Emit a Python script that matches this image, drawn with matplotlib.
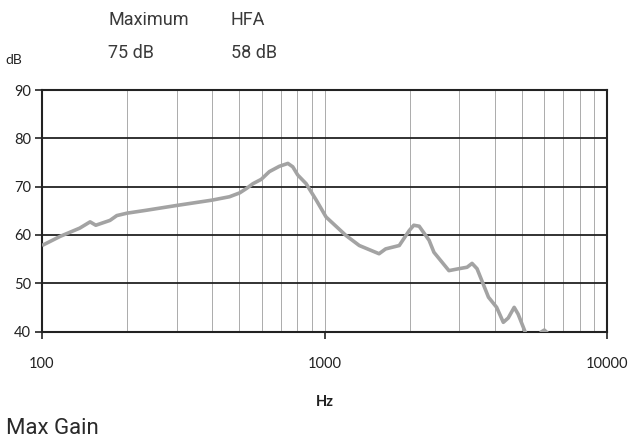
import matplotlib
matplotlib.use("Agg")
import matplotlib.pyplot as plt
from matplotlib.ticker import FixedLocator, NullFormatter
from matplotlib import font_manager

plt.rcParams['font.family'] = ['Lato', 'DejaVu Sans']
names = sorted({f.name for f in font_manager.fontManager.ttflist})
narrow = 'Liberation Sans Narrow' if 'Liberation Sans Narrow' in names else 'Roboto'

freq_hz = [100, 116, 136, 148, 155, 174, 184, 200, 234, 300, 400, 425, 461, 501, 529,
           558, 597, 638, 692, 742, 772, 804, 861, 935, 1013, 1190, 1328, 1560, 1646,
           1839, 1995, 2070, 2163, 2345, 2440, 2757, 2988, 3196, 3329, 3467, 3806, 4068,
           4295, 4471, 4693, 4846, 5117, 5300, 5600, 5850, 6000, 6150, 6400]
gain_db = [57.8, 59.7, 61.4, 62.7, 62.0, 63.0, 64.0, 64.5, 65.1, 66.1, 67.2, 67.5, 67.9,
           68.7, 69.6, 70.6, 71.5, 73.1, 74.2, 74.8, 74.1, 72.4, 70.6, 67.2, 63.7, 59.9,
           57.8, 56.1, 57.1, 57.8, 60.9, 62.0, 61.8, 58.9, 56.4, 52.6, 53.0, 53.3, 54.1,
           53.0, 47.1, 45.0, 41.9, 42.8, 45.0, 43.6, 40.1, 38.0, 37.5, 39.9, 40.3, 39.7, 37.0]

y_ticks = [40, 50, 60, 70, 80, 90]
x_major = [100, 1000, 10000]
x_minor = [200, 300, 400, 500, 600, 700, 800, 900, 1000,
           2000, 3000, 4000, 5000, 6000, 7000, 8000, 9000]

header_labels = ["Maximum", "HFA"]
header_values = ["75 dB", "58 dB"]

fig = plt.figure(figsize=(6.36, 4.42), dpi=100)
ax = fig.add_axes([42/636, 1-331.5/442, (607-42)/636, (331.5-90)/442])

ax.set_xscale('log')
ax.set_xlim(100, 10000)
ax.set_ylim(40, 90)

for xv in x_minor:
    ax.axvline(xv, color='#8a8a8a', lw=0.5, zorder=1)
for yv in y_ticks[1:-1]:
    ax.axhline(yv, color='#222222', lw=1.3, zorder=1)

ax.plot(freq_hz, gain_db, color='#a3a3a3', lw=2.6, zorder=3, clip_on=True,
        solid_joinstyle='round', solid_capstyle='butt')

for s in ax.spines.values():
    s.set_color('#222222')
    s.set_linewidth(1.5)

ax.xaxis.set_major_locator(FixedLocator(x_major))
ax.xaxis.set_minor_locator(FixedLocator([]))
ax.xaxis.set_minor_formatter(NullFormatter())
ax.set_xticklabels([str(v) for v in x_major])
ax.set_yticks(y_ticks)
ax.set_yticklabels([str(v) for v in y_ticks])
ax.tick_params(axis='x', direction='out', length=5, width=1.2, color='#222222',
               labelsize=10.5, pad=13, labelcolor='#222222')
ax.tick_params(axis='y', direction='out', length=5, width=1.2, color='#222222',
               labelsize=10.5, pad=3, labelcolor='#222222')

ax.set_xlabel('Hz', fontweight='bold', fontsize=10.5, labelpad=18, color='#222222')

fig.text(5/636, 1-60/442, 'dB', fontsize=10, va='center', ha='left', color='#222222')
xs = [108, 231]
for i in range(len(header_labels)):
    fig.text(xs[i]/636, 1-20/442, header_labels[i], fontsize=13, va='center',
             ha='left', color='#3a3a3a', family=[narrow, 'DejaVu Sans'])
    fig.text(xs[i]/636, 1-53/442, header_values[i], fontsize=13, va='center',
             ha='left', color='#3a3a3a', family=[narrow, 'DejaVu Sans'])
fig.text(6/636, 1-428/442, 'Max Gain', fontsize=16, va='center', ha='left',
         color='#2a2a2a', family=[narrow, 'DejaVu Sans'])

fig.savefig('out.png', dpi=100)
